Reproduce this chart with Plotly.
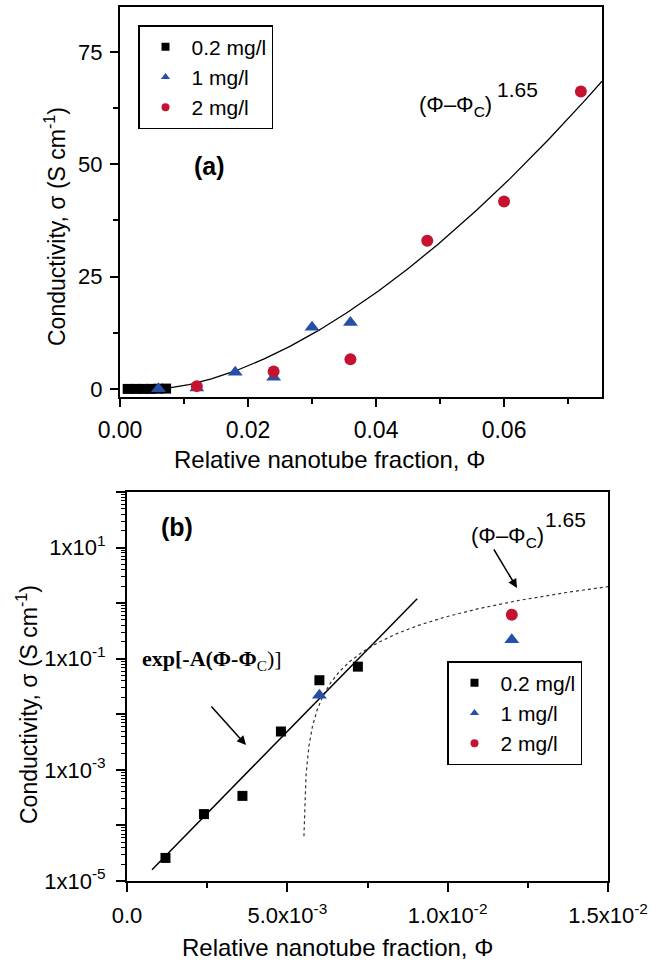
import numpy as np
import plotly.graph_objects as go

# ---------------- data ----------------
x_02 = [0.0012, 0.0024, 0.0036, 0.0048, 0.0060, 0.0072]
y_02 = [2.6e-5, 1.6e-4, 3.4e-4, 4.9e-3, 4.1e-2, 7.2e-2]

x_1 = [0.006, 0.012, 0.018, 0.024, 0.030, 0.036]
y_1 = [0.022, 0.22, 3.7, 2.6, 13.7, 14.8]

x_2 = [0.012, 0.024, 0.036, 0.048, 0.060, 0.072]
y_2 = [0.62, 3.9, 6.6, 33.0, 41.7, 66.2]

labels = ["0.2 mg/l", "1 mg/l", "2 mg/l"]

# fit parameters
phi_c = 0.0055
exponent = 1.65
k_top = 5537.0
k_bot = 4300.0
# exponential fit line (end points)
x_exp = [0.00078, 0.00905]
y_exp = [1.6e-5, 1.2]

xticks_top = [0.00, 0.02, 0.04, 0.06]
xtext_top = ["0.00", "0.02", "0.04", "0.06"]
yticks_top = [0, 25, 50, 75]
xticks_bot = [0.0, 0.005, 0.010, 0.015]
xtext_bot = ["0.0", "5.0x10<sup>-3</sup>", "1.0x10<sup>-2</sup>", "1.5x10<sup>-2</sup>"]
yexp_bot = [-5, -4, -3, -2, -1, 0, 1, 2]

BLUE = "#2650a8"
RED = "#c41230"
FONT = "Arial, Liberation Sans, sans-serif"
W, H = 652, 965

fig = go.Figure()

# --- fit curves ---
xt = np.linspace(phi_c, 0.0753, 200)
fig.add_trace(go.Scatter(x=xt, y=k_top * (xt - phi_c) ** exponent, mode="lines",
                         line=dict(color="black", width=1.3), showlegend=False,
                         xaxis="x", yaxis="y"))
xb = phi_c + np.logspace(np.log10(1.8e-5), np.log10(0.015 - phi_c), 300)
fig.add_trace(go.Scatter(x=xb, y=k_bot * (xb - phi_c) ** exponent, mode="lines",
                         line=dict(color="#333333", width=1.2, dash="dot"), showlegend=False,
                         xaxis="x2", yaxis="y2"))
fig.add_trace(go.Scatter(x=x_exp, y=y_exp, mode="lines",
                         line=dict(color="black", width=1.5), showlegend=False,
                         xaxis="x2", yaxis="y2"))

series = [
    (x_02, y_02, "square", "black", 10, 10),
    (x_1, y_1, "triangle-up", BLUE, 13, 13),
    (x_2, y_2, "circle", RED, 12, 12),
]
for ax, ay in [("x", "y"), ("x2", "y2")]:
    for xs, ys, sym, col, s_top, s_bot in series:
        fig.add_trace(go.Scatter(x=xs, y=ys, mode="markers",
                                 marker=dict(symbol=sym, color=col, size=s_top if ax == "x" else s_bot,
                                             line=dict(width=0)),
                                 showlegend=False, xaxis=ax, yaxis=ay))

# legend-only traces
for lg, ax, ay in [("legend", "x", "y"), ("legend2", "x2", "y2")]:
    for (xs, ys, sym, col, _, _), lab in zip(series, labels):
        fig.add_trace(go.Scatter(x=[None], y=[None], mode="markers", name=lab,
                                 marker=dict(symbol=sym, color=col, size=8),
                                 legend=lg, legendgroup=lg + lab, xaxis=ax, yaxis=ay))

def axis_common(fs, tl):
    return dict(showline=True, linecolor="black", linewidth=2, mirror=True,
                ticks="outside", ticklen=tl, tickwidth=1.5, tickcolor="black",
                showgrid=False, zeroline=False, automargin=False,
                tickfont=dict(family=FONT, size=fs, color="black"))

minor_y = [m * 10.0 ** e for e in range(-5, 2) for m in range(2, 10)]

fig.update_layout(
    width=W, height=H, margin=dict(l=0, r=0, t=0, b=0),
    paper_bgcolor="white", plot_bgcolor="white",
    font=dict(family=FONT, size=21, color="black"),
    xaxis=dict(domain=[120 / W, 602 / W], range=[0, 0.0753], anchor="y",
               tickvals=xticks_top, ticktext=xtext_top,
               minor=dict(tickvals=[0.01, 0.03, 0.05, 0.07], ticks="outside", ticklen=5,
                          tickcolor="black", tickwidth=1.5),
               ticklabelstandoff=3, **axis_common(23, 8)),
    yaxis=dict(domain=[1 - 397 / H, 1 - 7 / H], range=[-1.8, 85], anchor="x",
               tickvals=yticks_top,
               minor=dict(tickvals=[12.5, 37.5, 62.5], ticks="outside", ticklen=5,
                          tickcolor="black", tickwidth=1.5),
               ticklabelstandoff=3, **axis_common(22, 8)),
    xaxis2=dict(domain=[127 / W, 608 / W], range=[0, 0.015], anchor="y2",
                tickvals=xticks_bot, ticktext=xtext_bot,
                minor=dict(tickvals=[0.0025, 0.0075, 0.0125], ticks="outside", ticklen=5,
                           tickcolor="black", tickwidth=1.5),
                ticklabelstandoff=5, **axis_common(22, 9)),
    yaxis2=dict(domain=[1 - 881 / H, 1 - 492 / H], type="log", range=[-5, 2], anchor="x2",
                tickvals=[10.0 ** e for e in yexp_bot],
                ticktext=[("1x10<sup>%d</sup>" % e) if e % 2 else "" for e in yexp_bot],
                minor=dict(tickvals=minor_y, ticks="outside", ticklen=4,
                           tickcolor="black", tickwidth=1),
                ticklabelstandoff=6, **axis_common(22, 9)),
    legend=dict(x=138 / W, y=1 - 25 / H, xanchor="left", yanchor="top",
                bordercolor="black", borderwidth=1.5, bgcolor="white", itemwidth=42,
                font=dict(family=FONT, size=21, color="black"), tracegroupgap=0),
    legend2=dict(x=447 / W, y=1 - 661 / H, xanchor="left", yanchor="top",
                 bordercolor="black", borderwidth=1.5, bgcolor="white", itemwidth=42,
                 font=dict(family=FONT, size=21, color="black"), tracegroupgap=0),
)

ann = []
def pann(text, x, y, size=23, angle=0, xa="center", family=FONT):
    ann.append(dict(text=text, x=x / W, y=1 - y / H, xref="paper", yref="paper",
                    showarrow=False, textangle=angle, xanchor=xa, yanchor="middle",
                    font=dict(family=family, size=size, color="black")))

pann("Conductivity, σ (S cm<sup>-1</sup>)", 55, 227, angle=-90)
pann("Relative nanotube fraction, Φ", 329, 460, size=24)
pann("Conductivity, σ (S cm<sup>-1</sup>)", 27, 705, angle=-90)
pann("Relative nanotube fraction, Φ", 337, 947, size=24)
pann("<b>(a)</b>", 210, 166, size=25)
pann("<b>(b)</b>", 177, 527, size=25)
# power-law labels: main part + exponent
pann("(Φ–Φ<sub>C</sub>)", 417, 106, size=22, xa="left")
pann("1.65", 495, 89, size=21, xa="left")
pann("(Φ–Φ<sub>C</sub>)", 469, 537, size=22, xa="left")
pann("1.65", 543, 519, size=21, xa="left")
pann("<b>exp[-A(Φ-Φ</b><sub>C</sub>)]", 212, 660, size=22,
     family="Liberation Serif, Times New Roman, serif")

# arrows: head position in paper coords, tail as pixel offset
for (tx, ty, hx, hy) in [(210, 705, 246, 745), (493, 548, 517, 588)]:
    ann.append(dict(x=hx / W, y=1 - hy / H, ax=tx - hx, ay=ty - hy,
                    xref="paper", yref="paper", axref="pixel", ayref="pixel",
                    showarrow=True, arrowhead=2, arrowsize=1.2, arrowwidth=1.5,
                    arrowcolor="black", text=""))

fig.update_layout(annotations=ann)
fig.write_html("out.html")
